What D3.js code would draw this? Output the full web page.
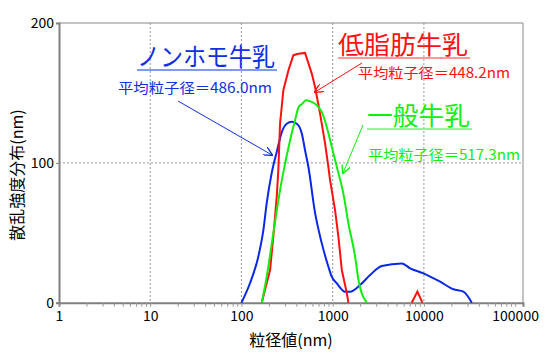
<!DOCTYPE html>
<html>
<head>
<meta charset="utf-8">
<script src="https://cdn.jsdelivr.net/npm/d3@7"></script>
<style>
  body { margin: 0; background: #fff; }
  text { font-family: "Noto Sans CJK JP", "Noto Sans", sans-serif; }
</style>
</head>
<body>
<div id="chart"></div>
<script>
// particle size (nm) and scattering intensity
const blueSize  = [100, 124, 153, 174, 189, 215, 244, 277, 314, 356, 404, 459, 498, 542, 642, 759, 898, 977, 1109, 1368, 1552, 1995, 2570, 3450, 5730, 7060, 9880, 15070, 21040, 27100, 33500];
const blueValue = [0, 13.9, 32.9, 52, 71, 93, 108, 122, 128, 129.3, 128, 121, 109, 97, 64, 42.6, 25.7, 18.6, 13.9, 7.9, 7.9, 12.6, 19.8, 26.2, 28.1, 24.6, 21, 15, 9.6, 7.9, 0];

const redSize  = [167, 189, 206, 224, 244, 254, 265, 288, 327, 371, 421, 498, 590, 642, 728, 826, 898, 936, 1062, 1156, 1259, 1428, 1487, null, 7360, 8490, 9630];
const redValue = [0, 13.9, 23.4, 47.7, 76.3, 95.5, 128, 152, 166, 177, 178, 178.6, 163.8, 154, 135, 113.8, 97, 87.6, 66.2, 47.1, 23.4, 6.9, 0, null, 0, 8, 0];

const greenSize  = [167, 189, 215, 244, 277, 301, 341, 387, 421, 459, 511, 590, 670, 759, 861, 977, 1109, 1310, 1487, 1762, 1914, 2366];
const greenValue = [0, 18.4, 42.2, 66, 87.6, 99.5, 116, 130.5, 139.6, 142, 144.8, 143.6, 141.2, 136.4, 125.7, 111.5, 97.2, 78, 56.7, 32.9, 16.6, 0];

const xMajor = [1, 10, 100, 1000, 10000, 100000];
const yTicks = [0, 100, 200];

const seriesNames = ["ノンホモ牛乳", "低脂肪牛乳", "一般牛乳"];
const meanLabels  = ["平均粒子径＝486.0nm", "平均粒子径＝448.2nm", "平均粒子径＝517.3nm"];

const W = 550, H = 361;
const svg = d3.select("#chart").append("svg")
    .attr("width", W).attr("height", H);

const x = d3.scaleLog().domain([1, 122000]).range([59, 523]);
const y = d3.scaleLinear().domain([0, 200]).range([302.7, 23]);

// minor tick positions 1..9 per decade
const xMinor = [];
for (let e = 0; e < 5; e++) {
    for (let k = 1; k < 10; k++) xMinor.push(k * Math.pow(10, e));
}
xMinor.push(100000);

// grid
const grid = svg.append("g");
grid.selectAll(".vg")
    .data(xMajor.slice(1, 5))
    .enter().append("line")
    .attr("x1", d => x(d)).attr("x2", d => x(d))
    .attr("y1", y(200)).attr("y2", y(0))
    .attr("stroke", "#999").attr("stroke-dasharray", "2,2");
grid.append("line")
    .attr("x1", x(1)).attr("x2", x.range()[1])
    .attr("y1", y(100)).attr("y2", y(100))
    .attr("stroke", "#999").attr("stroke-dasharray", "2,2");

// frame top / right
svg.append("path")
    .attr("d", `M${x(1)},${y(200)}H${x.range()[1]}V${y(0)}`)
    .attr("fill", "none").attr("stroke", "#888").attr("stroke-width", 1);

// axes
const xAxis = svg.append("g")
    .attr("transform", `translate(0,${y(0)})`)
    .call(d3.axisBottom(x)
        .tickValues(xMinor)
        .tickSize(4)
        .tickPadding(4)
        .tickFormat(d => xMajor.includes(d) ? d : ""));
xAxis.select(".domain").attr("stroke", "#808080").attr("stroke-width", 2);
xAxis.selectAll(".tick line").attr("stroke", "#999");
xAxis.selectAll(".tick text").attr("fill", "#000").style("font-size", "14px");

const yAxis = svg.append("g")
    .attr("transform", `translate(${x(1)},0)`)
    .call(d3.axisLeft(y).tickValues(yTicks).tickSize(3).tickPadding(2));
yAxis.select(".domain").attr("stroke", "#808080").attr("stroke-width", 2);
yAxis.selectAll(".tick line").attr("stroke", "#808080");
yAxis.selectAll(".tick text").attr("fill", "#000").style("font-size", "14px");

// axis titles
svg.append("text")
    .attr("x", 291).attr("y", 346)
    .attr("text-anchor", "middle")
    .style("font-size", "16px")
    .text("粒径値(nm)");
svg.append("text")
    .attr("transform", "translate(23,175) rotate(-90)")
    .attr("text-anchor", "middle")
    .style("font-size", "16px")
    .text("散乱強度分布(nm)");

// curves
const curves = [
    { size: blueSize,  value: blueValue,  color: "#0a28e6", curve: d3.curveMonotoneX },
    { size: redSize,   value: redValue,   color: "#ff1010", curve: d3.curveLinear },
    { size: greenSize, value: greenValue, color: "#10ee10", curve: d3.curveMonotoneX }
];

svg.selectAll(".curve")
    .data(curves)
    .enter().append("path")
    .attr("class", "curve")
    .attr("d", c => d3.line()
        .defined(d => d[0] !== null)
        .x(d => x(d[0]))
        .y(d => y(d[1]))
        .curve(c.curve)(c.size.map((s, i) => [s, c.value[i]])))
    .attr("fill", "none")
    .attr("stroke", c => c.color)
    .attr("stroke-width", 2);

// annotations
const defs = svg.append("defs");
const notes = [
    { name: seriesNames[0], mean: meanLabels[0], color: "#1030e0", light: "#5577f0",
      tx: 137, ty: 66, tw: 138, mx: 118, my: 93, mw: 154,
      ax1: 178, ay1: 101, ax2: 272, ay2: 155 },
    { name: seriesNames[1], mean: meanLabels[1], color: "#ff1010", light: "#ff7777",
      tx: 338, ty: 54, tw: 130, mx: 358, my: 78, mw: 152,
      ax1: 362, ay1: 63, ax2: 315, ay2: 92 },
    { name: seriesNames[2], mean: meanLabels[2], color: "#10ee10", light: "#77ee77",
      tx: 367, ty: 125, tw: 103, mx: 368, my: 160, mw: 152,
      ax1: 363, ay1: 125, ax2: 343, ay2: 173 }
];

notes.forEach((n, i) => {
    defs.append("marker")
        .attr("id", "arrow" + i)
        .attr("viewBox", "0 0 10 10")
        .attr("refX", 9).attr("refY", 5)
        .attr("markerWidth", 9).attr("markerHeight", 9)
        .attr("markerUnits", "userSpaceOnUse")
        .attr("orient", "auto")
        .append("path")
        .attr("d", "M0,0L10,5L0,10")
        .attr("fill", "none")
        .attr("stroke", n.color)
        .attr("stroke-width", 1.5);

    svg.append("text")
        .attr("x", n.tx).attr("y", n.ty)
        .attr("textLength", n.tw).attr("lengthAdjust", "spacingAndGlyphs")
        .attr("fill", n.color)
        .style("font-size", "25px")
        .text(n.name);
    svg.append("line")
        .attr("x1", n.tx).attr("x2", n.tx + n.tw + 2)
        .attr("y1", n.ty + 4).attr("y2", n.ty + 4)
        .attr("stroke", n.light).attr("stroke-width", 1.5);

    svg.append("text")
        .attr("x", n.mx).attr("y", n.my)
        .attr("textLength", n.mw).attr("lengthAdjust", "spacingAndGlyphs")
        .attr("fill", n.color)
        .style("font-size", "14px")
        .text(n.mean);

    svg.append("line")
        .attr("x1", n.ax1).attr("y1", n.ay1)
        .attr("x2", n.ax2).attr("y2", n.ay2)
        .attr("stroke", n.color).attr("stroke-width", 1)
        .attr("marker-end", `url(#arrow${i})`);
});
</script>
</body>
</html>
